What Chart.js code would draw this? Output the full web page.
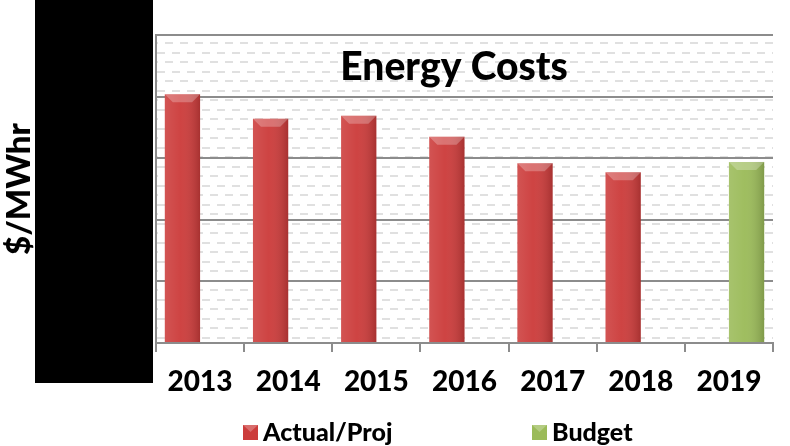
<!DOCTYPE html>
<html>
<head>
<meta charset="utf-8">
<script src="https://cdn.jsdelivr.net/npm/chart.js@4.4.1/dist/chart.umd.min.js"></script>
<style>
body { margin: 0; background: #fff; }
#wrap { width: 790px; height: 446px; position: relative; }
</style>
</head>
<body>
<div id="wrap"><canvas id="energyChart"></canvas></div>
<script>
// values ($/MWhr, y labels are hidden in the original)
const years = ['2013', '2014', '2015', '2016', '2017', '2018', '2019'];
const actualProj = [40.4, 36.4, 36.9, 33.5, 29.2, 27.7, null];
const budget = [null, null, null, null, null, null, 29.4];
const seriesNames = ['Actual/Proj', 'Budget'];
const yAxisTitle = '$/MWhr';
const chartTitle = 'Energy Costs';

const FONT = 'Lato, "Open Sans", sans-serif';
const WEIGHT = '900';
const RED = '#cc3c3b';
const GREEN = '#9bbb59';
const GRID = '#8c8c8c';

// light grey dashed fill behind the plot
function dashPattern(ctx) {
    const c = document.createElement('canvas');
    c.width = 15; c.height = 19;
    const g = c.getContext('2d');
    g.fillStyle = '#fff';
    g.fillRect(0, 0, 15, 19);
    g.fillStyle = '#e0e0e0';
    g.fillRect(0, 4, 8, 2);
    g.fillRect(7, 14, 8, 2);
    return ctx.createPattern(c, 'repeat');
}

const plotBackground = {
    id: 'plotBackground',
    beforeDraw(chart) {
        const { ctx, chartArea: a } = chart;
        ctx.save();
        ctx.fillStyle = '#fff';
        ctx.fillRect(0, 0, chart.width, chart.height);
        ctx.fillStyle = dashPattern(ctx);
        ctx.fillRect(a.left, a.top, a.right - a.left, a.bottom - a.top);
        ctx.restore();
    }
};

// soft shading + bevelled top like the office style bars
const barShade = {
    id: 'barShade',
    afterDatasetsDraw(chart) {
        const ctx = chart.ctx;
        chart.data.datasets.forEach((ds, i) => {
            chart.getDatasetMeta(i).data.forEach((bar, j) => {
                if (ds.data[j] == null) return;
                const w = bar.width, l = bar.x - w / 2, r = bar.x + w / 2, t = bar.y, b = bar.base;
                ctx.save();
                const gr = ctx.createLinearGradient(l, 0, r, 0);
                gr.addColorStop(0, 'rgba(255,255,255,0.12)');
                gr.addColorStop(0.45, 'rgba(255,255,255,0.04)');
                gr.addColorStop(1, 'rgba(0,0,0,0.18)');
                ctx.fillStyle = gr;
                ctx.fillRect(l, t, w, b - t);
                const bv = 8;
                ctx.fillStyle = 'rgba(255,255,255,0.25)';
                ctx.beginPath();
                ctx.moveTo(l, t);
                ctx.lineTo(r, t);
                ctx.lineTo(r - bv, t + bv);
                ctx.lineTo(l + bv, t + bv);
                ctx.closePath();
                ctx.fill();
                ctx.restore();
            });
        });
    }
};

// title inside the plot, custom legend and the black box over the y labels
const overlay = {
    id: 'overlay',
    afterDraw(chart) {
        const ctx = chart.ctx;
        const a = chart.chartArea;
        ctx.save();
        ctx.fillStyle = '#000';
        ctx.font = WEIGHT + ' 39px ' + FONT;
        ctx.textAlign = 'center';
        ctx.textBaseline = 'alphabetic';
        ctx.fillText(chartTitle, a.left + 298, a.top + 45);

        const legendX = [243, 532];
        ctx.font = WEIGHT + ' 25px ' + FONT;
        ctx.textAlign = 'left';
        ctx.textBaseline = 'middle';
        chart.data.datasets.forEach((ds, i) => {
            const x = legendX[i], y = 432;
            ctx.fillStyle = ds.backgroundColor;
            ctx.fillRect(x, y - 7, 15, 15);
            ctx.fillStyle = 'rgba(255,255,255,0.25)';
            ctx.beginPath();
            ctx.moveTo(x, y - 7);
            ctx.lineTo(x + 15, y - 7);
            ctx.lineTo(x + 7.5, y);
            ctx.closePath();
            ctx.fill();
            ctx.fillStyle = '#000';
            ctx.fillText(ds.label, x + 20, y + 1);
        });

        ctx.fillStyle = '#000';
        ctx.fillRect(35, 0, 118, 383);
        ctx.restore();
    }
};

new Chart(document.getElementById('energyChart'), {
    type: 'bar',
    data: {
        labels: years,
        datasets: [
            { label: seriesNames[0], data: actualProj, backgroundColor: RED },
            { label: seriesNames[1], data: budget, backgroundColor: GREEN }
        ]
    },
    options: {
        responsive: true,
        maintainAspectRatio: false,
        animation: false,
        categoryPercentage: 0.8,
        barPercentage: 1.0,
        layout: { padding: { top: 35, right: 17, left: 0, bottom: 0 } },
        plugins: {
            legend: { display: false },
            title: { display: false },
            tooltip: { enabled: false }
        },
        scales: {
            x: {
                grid: { drawOnChartArea: false, color: GRID, lineWidth: 2, tickLength: 9, offset: true },
                border: { color: GRID, width: 2 },
                ticks: { color: '#000', font: { family: FONT, size: 28, weight: WEIGHT }, padding: 13 },
                afterFit: s => { s.height = 103; }
            },
            y: {
                min: 0,
                max: 50,
                ticks: { stepSize: 10, display: false },
                grid: { color: GRID, lineWidth: 2, drawTicks: false },
                border: { color: GRID, width: 2 },
                title: {
                    display: true,
                    text: yAxisTitle,
                    color: '#000',
                    font: { family: FONT, size: 33, weight: WEIGHT },
                    padding: { top: 0, bottom: 0 }
                },
                afterFit: s => { s.width = 156; }
            }
        }
    },
    plugins: [plotBackground, barShade, overlay]
});
</script>
</body>
</html>
